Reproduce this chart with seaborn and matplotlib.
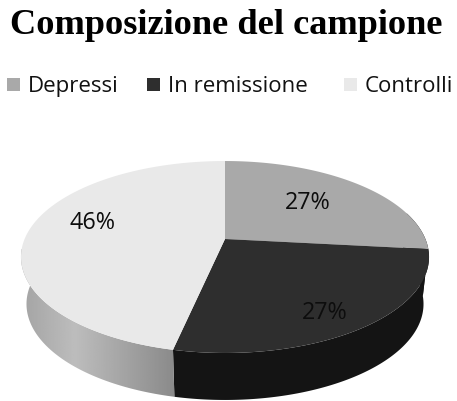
import numpy as np
import matplotlib
matplotlib.use("Agg")
import matplotlib.pyplot as plt
from matplotlib.patches import Polygon, Rectangle
import seaborn as sns

title = "Composizione del campione"
categories = ["Depressi", "In remissione", "Controlli"]
shares = [26.7, 26.7, 46.6]
share_labels = ["27%", "27%", "46%"]
top_colors = ["#a9a9a9", "#2e2e2e", "#e9e9e9"]
side_colors = ["#141414", "#141414", "#c6c6c6"]

sns.set_theme(style="white")
plt.rcParams["font.family"] = ["Open Sans", "DejaVu Sans"]

CX, CY = 225, 240
RX, RY, K = 200.4, 92.6, 0.1875


def rim(theta, scale=1.0, drop=0.0):
    # tilted disc, the near edge is bigger than the far one
    u = -np.cos(theta)
    w = 1 - K * u
    x = CX + scale * RX * np.sin(theta) / w
    y = CY + drop + RY * u / w
    return np.column_stack([x, y])


fig = plt.figure(figsize=(4.57, 4.02), dpi=100)
ax = fig.add_axes([0, 0, 1, 1])
ax.set_xlim(0, 457)
ax.set_ylim(402, 0)
ax.axis("off")

edges = np.radians(np.cumsum([0] + shares) * 3.6)
SCALE, DROP = 0.973, 47

# side of the disc first, only the near half shows
for i in range(3):
    t = np.linspace(edges[i], edges[i + 1], 200)
    t = t[(t > np.pi / 2 - 0.3) & (t < 3 * np.pi / 2 + 0.3)]
    if len(t) == 0:
        continue
    poly = np.vstack([rim(t), rim(t[::-1], SCALE, DROP)])
    if categories[i] == "Controlli":
        patch = Polygon(poly, closed=True, facecolor="none", edgecolor="none")
        ax.add_patch(patch)
        shade = np.interp(np.linspace(20, 176, 256), [20, 75, 176], [0.64, 0.74, 0.54]).reshape(1, -1)
        img = ax.imshow(shade, cmap="gray", vmin=0, vmax=1, aspect="auto",
                        extent=[20, 176, 402, 250], zorder=2)
        img.set_clip_path(patch)
        ax.set_xlim(0, 457)
        ax.set_ylim(402, 0)
    else:
        ax.fill(poly[:, 0], poly[:, 1], color=side_colors[i], lw=0, zorder=2)

# top of the pie
for i in range(3):
    t = np.linspace(edges[i], edges[i + 1], 200)
    poly = np.vstack([[CX, CY], rim(t)])
    ax.fill(poly[:, 0], poly[:, 1], color=top_colors[i], lw=0, zorder=3)

label_pos = [(308, 203), (325, 313), (92, 223)]
for s, (x, y) in zip(share_labels, label_pos):
    ax.text(x, y, s, fontsize=16.8, color="#0d0d0d", ha="center", va="center", zorder=4)

ax.text(226, 25, title, fontsize=26.2, fontweight="bold", family="Liberation Serif",
        color="black", ha="center", va="center")

legend_x = [7, 147, 344]
for name, color, x in zip(categories, top_colors, legend_x):
    ax.add_patch(Rectangle((x, 79), 13, 13, facecolor=color, edgecolor="none"))
    ax.text(x + 21, 92, name, fontsize=16, color="#111111", ha="left", va="baseline")

fig.savefig("out.png", dpi=100)
